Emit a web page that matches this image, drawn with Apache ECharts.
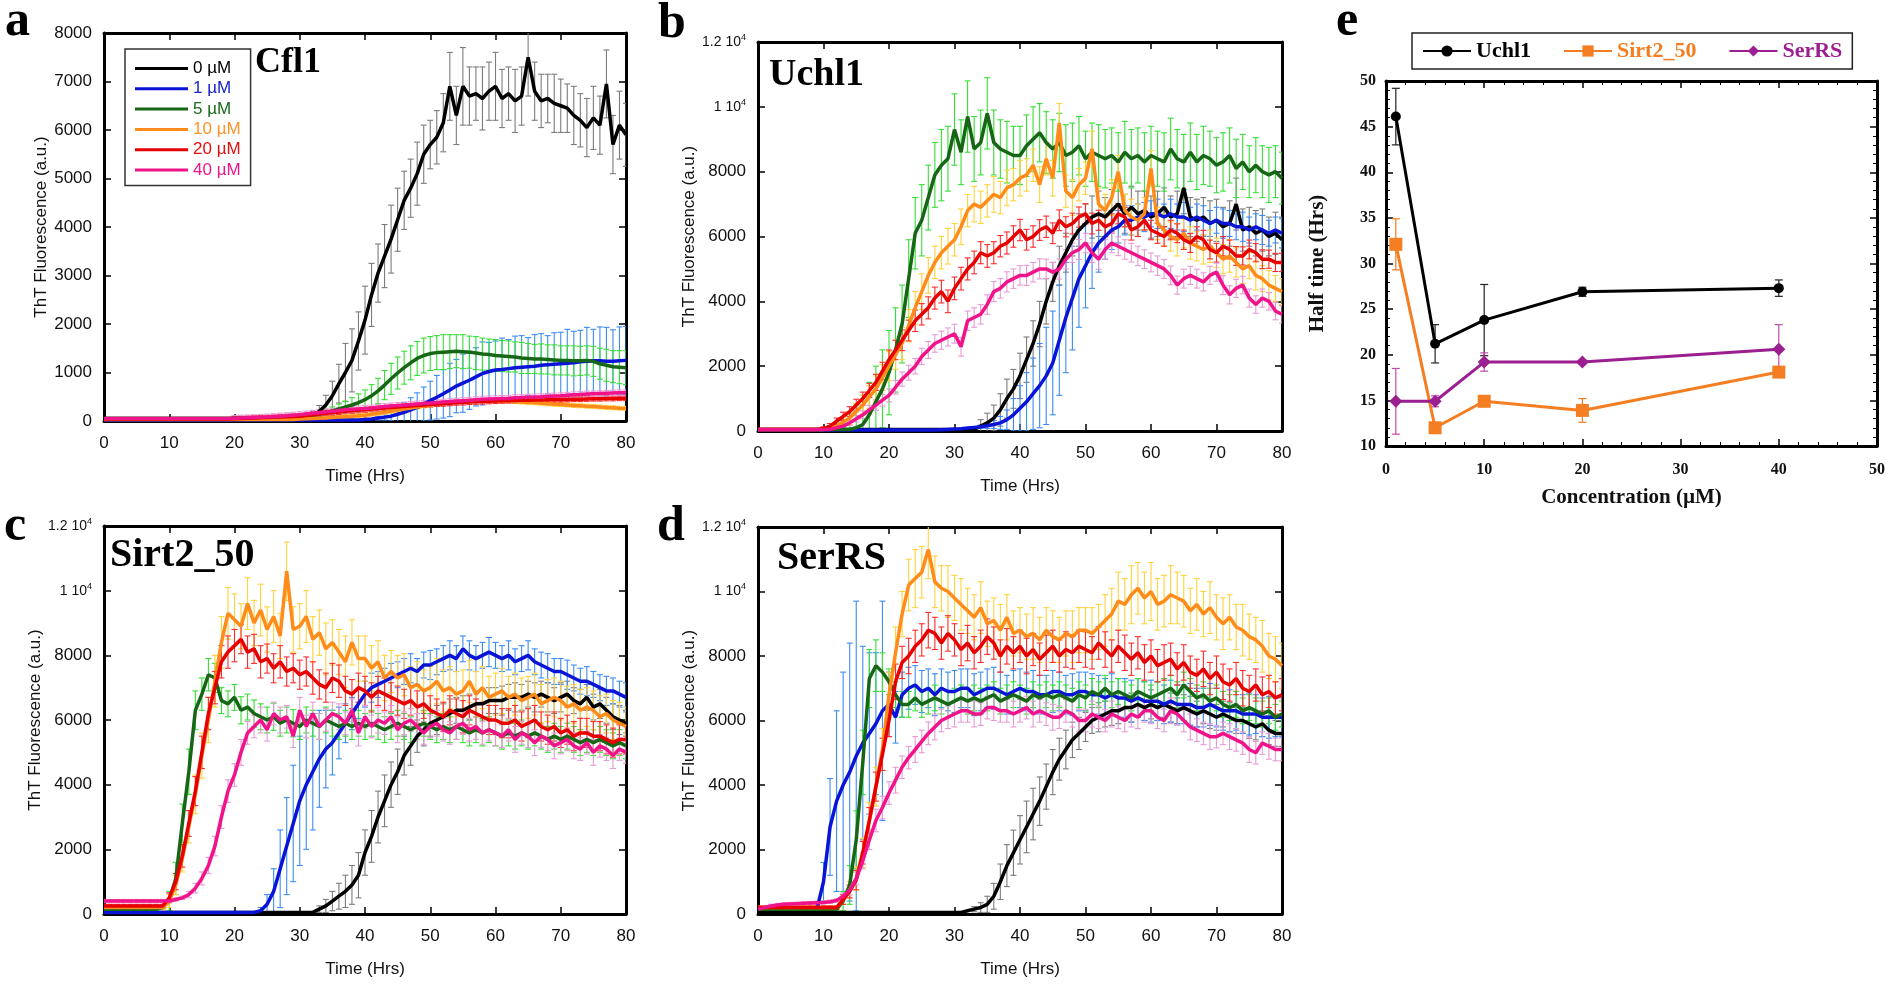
<!DOCTYPE html>
<html><head><meta charset="utf-8">
<script src="https://cdn.jsdelivr.net/npm/echarts@6.0.0/dist/echarts.min.js"></script>
<style>html,body{margin:0;padding:0;background:#fff}#c{width:1890px;height:986px}</style>
</head><body><div id="c"></div>
<script>
// ---------- time axis (hours) ----------
const HOURS = [0,1,2,3,4,5,6,7,8,9,10,11,12,13,14,15,16,17,18,19,20,21,22,23,24,25,26,27,28,29,30,31,32,33,34,35,36,37,38,39,40,41,42,43,44,45,46,47,48,49,50,51,52,53,54,55,56,57,58,59,60,61,62,63,64,65,66,67,68,69,70,71,72,73,74,75,76,77,78,79,80];
const CONC = ['0 µM','1 µM','5 µM','10 µM','20 µM','40 µM'];
const X_LABELS = ['0','10','20','30','40','50','60','70','80'];
const Y_LABELS_A = ['0','1000','2000','3000','4000','5000','6000','7000','8000'];
const Y_LABELS_BCD = ['0','2000','4000','6000','8000','1 10^4','1.2 10^4'];
const PANEL_NAMES = ['Cfl1','Uchl1','Sirt2_50','SerRS'];

// ---------- panel a : Cfl1 ----------
const A_0 = [50,50,50,50,50,50,50,50,50,50, 50,50,50,50,50,50,50,50,50,50, 50,50,50,50,50,50,50,50,50,50,
 60,80,120,200,330,520,770,1000,1250,1650, 2080,2600,3050,3400,3750,4150,4550,4800,5100,5500,
 5700,5850,6150,6900,6300,6900,6700,6750,6650,6800, 6900,6650,6750,6600,6700,7500,6800,6600,6650,6550,
 6500,6450,6300,6200,6050,6250,6100,6950,5700,6100, 5900];
const A_1 = [20,20,20,20,20,20,20,20,20,20, 20,20,20,20,20,20,20,20,20,20, 20,20,20,20,20,20,20,20,20,20, 20,20,20,20,20,20,20,20,20,20,
 30,40,60,80,100,140,180,230,280,350, 420,490,560,640,720,780,840,910,980,1020,
 1050,1060,1080,1100,1110,1120,1130,1150,1160,1170, 1180,1190,1200,1220,1230,1240,1240,1230,1230,1240, 1250];
const A_2 = [50,50,50,50,50,50,50,50,50,50, 50,50,50,50,50,50,50,50,50,50, 50,50,50,50,50,50,50,50,50,50,
 70,90,110,140,170,210,250,290,330,380, 440,520,620,740,870,990,1100,1200,1290,1350,
 1390,1410,1420,1430,1440,1430,1420,1400,1380,1370, 1350,1340,1330,1320,1300,1290,1280,1280,1270,1260,
 1250,1250,1240,1240,1250,1230,1180,1150,1120,1110, 1100];
const A_3 = [30,30,30,30,30,30,30,30,30,30, 30,30,30,30,30,30,30,30,30,30, 30,30,30,30,30,30,30,30,30,30,
 40,45,50,55,60,70,80,90,100,110, 120,140,160,180,200,220,245,270,290,310,
 330,345,360,375,390,400,410,415,420,420, 420,415,410,400,390,380,375,365,355,345,
 340,330,320,315,305,300,290,280,275,265, 260];
const A_4 = [40,40,40,40,40,40,40,40,40,40, 40,40,40,40,40,40,40,40,40,40,
 45,50,55,60,65,70,75,80,90,95, 100,115,130,145,160,170,185,200,210,220,
 230,245,255,270,280,290,300,310,320,330, 340,350,355,365,375,380,390,395,400,405,
 410,415,420,425,430,430,435,435,440,440, 440,445,450,450,455,460,460,465,465,470, 470];
const A_5 = [50,50,50,50,50,50,50,50,50,50, 50,50,50,50,50,50,50,50,50,50,
 55,60,65,70,75,80,90,100,110,120, 130,145,160,175,190,200,215,230,240,250,
 260,270,285,300,310,320,330,340,350,360, 370,380,390,400,410,420,430,440,450,455,
 460,465,470,480,485,490,495,500,510,515, 520,530,540,545,555,560,565,570,575,580, 580];
const AE_0 = [0,0,0,0,0,0,0,0,0,0, 0,0,0,0,0,0,0,0,0,0, 0,0,0,0,0,0,0,0,0,0,
 30,50,80,120,200,300,400,600,650,600, 700,650,600,650,700,650,600,600,650,600,
 500,550,600,700,600,800,600,550,650,600, 700,600,550,650,600,800,600,550,500,600,
 550,500,600,550,600,650,600,700,600,700, 650];
const AE_1 = [0,0,0,0,0,0,0,0,0,0, 0,0,0,0,0,0,0,0,0,0, 0,0,0,0,0,0,0,0,0,0, 0,0,0,0,0,0,0,0,0,0,
 0,0,40,60,100,150,200,250,300,350, 400,450,500,550,550,600,600,600,650,600,
 600,650,600,650,650,600,650,650,600,650, 650,700,650,650,700,650,700,700,650,700, 700];
const AE_2 = [0,0,0,0,0,0,0,0,0,0, 0,0,0,0,0,0,0,0,0,0, 0,0,0,0,0,0,0,0,0,0,
 20,30,40,50,60,80,100,120,150,180, 200,230,260,300,320,330,340,350,350,360,
 350,350,360,350,340,350,330,340,330,320, 330,320,320,310,320,310,300,310,300,310,
 300,300,310,300,300,310,320,330,330,340, 350];
const AE_3 = [10,10,10,10,10,10,10,10,10,10, 10,10,10,10,10,10,10,10,10,10, 10,10,10,10,10,10,10,10,10,10,
 40,40,40,40,40,40,40,40,40,40, 40,40,40,40,40,40,40,40,40,40, 40,40,40,40,40,40,40,40,40,40,
 40,40,40,40,40,40,40,40,40,40, 40,40,40,40,40,40,40,40,40,40, 40];
const AE_4 = [15,15,15,15,15,15,15,15,15,15, 15,15,15,15,15,15,15,15,15,15,
 50,50,50,50,50,50,50,50,50,50, 50,50,50,50,50,50,50,50,50,50, 50,50,50,50,50,50,50,50,50,50,
 50,50,50,50,50,50,50,50,50,50, 50,50,50,50,50,50,50,50,50,50, 50,50,50,50,50,50,50,50,50,50, 50];
const AE_5 = [15,15,15,15,15,15,15,15,15,15, 15,15,15,15,15,15,15,15,15,15,
 60,60,60,60,60,60,60,60,60,60, 60,60,60,60,60,60,60,60,60,60, 60,60,60,60,60,60,60,60,60,60,
 60,60,60,60,60,60,60,60,60,60, 60,60,60,60,60,60,60,60,60,60, 60,60,60,60,60,60,60,60,60,60, 60];

// ---------- panel b : Uchl1 ----------
const B_0 = [50,50,50,50,50,50,50,50,50,50, 50,50,50,50,50,50,50,50,50,50, 50,50,50,50,50,50,50,50,50,50,
 50,50,50,50,150,250,400,650,1000,1300, 1700,2200,2700,3300,4000,4600,5100,5500,5900,6200,
 6400,6600,6700,6600,6800,7000,6700,6900,6700,6800, 6600,6700,6900,6600,6700,7500,6600,6500,6600,6400,
 6500,6300,6400,7000,6200,6300,6100,6200,6000,6100, 5900];
const B_1 = [30,30,30,30,30,30,30,30,30,30, 30,30,30,30,30,30,30,30,30,30,
 30,30,30,30,30,30,30,30,40,50, 60,70,90,110,130,160,200,250,350,500,
 700,900,1150,1400,1700,2100,2800,3500,4100,4700, 5100,5500,5800,6000,6200,6300,6500,6500,6600,6600,
 6700,6700,6600,6700,6600,6600,6500,6600,6500,6400, 6500,6400,6400,6300,6300,6200,6300,6200,6100,6200, 6100];
const B_2 = [50,50,50,50,50,50,50,50,50,50, 50,50,50,50,50,100,200,500,900,1300,
 1800,2500,3300,4700,6100,6500,7200,7900,8200,8400, 9300,8600,9700,8700,8900,9800,8900,8700,8600,8500,
 8500,8800,9000,9200,8900,8700,8900,8500,8600,8800, 8400,8600,8500,8400,8500,8300,8600,8400,8500,8300,
 8500,8400,8300,8700,8400,8300,8600,8300,8500,8400, 8200,8300,8500,8100,8300,8000,8200,8000,7900,8000, 7800];
const B_3 = [50,50,50,50,50,50,50,50,50,50, 50,100,150,280,400,600,800,1050,1300,1650,
 2000,2350,2700,3250,3800,4300,4800,5200,5500,5700, 5900,6300,6800,7000,6900,7100,7300,7200,7500,7600,
 7800,7900,8200,7600,8400,7800,9500,7400,7200,7600, 7800,8700,7000,6800,7200,8000,6800,6600,6500,6700,
 8100,6400,6200,6000,5900,6100,5800,5700,5600,5700, 5500,5300,5400,5200,5000,5100,4800,4700,4500,4400, 4300];
const B_4 = [50,50,50,50,50,50,50,50,50,50, 80,150,300,450,600,800,1000,1250,1500,1850,
 2200,2500,2800,3100,3400,3600,3800,4100,4300,4000, 4400,4700,5000,5200,5500,5400,5500,5700,5800,6000,
 6200,5900,6000,6200,6300,6100,6500,6300,6400,6600, 6700,6400,6500,6300,6400,6700,6600,6200,6300,6500,
 6200,6100,6000,6200,6100,5900,5800,6000,5900,5600, 5500,5700,5600,5400,5400,5600,5500,5300,5300,5200, 5200];
const B_5 = [50,50,50,50,50,50,50,50,50,50, 50,50,100,150,250,380,500,650,800,950,
 1100,1350,1600,1800,2000,2300,2500,2700,2800,2900, 3000,2600,3400,3500,3600,3900,4300,4400,4600,4700,
 4800,4800,4900,5000,5000,4900,5000,5300,5500,5600, 5800,5500,5300,5600,5800,5700,5600,5500,5400,5300,
 5200,5100,5000,4800,4500,4700,4800,4700,4600,4800, 4900,4500,4200,4400,4500,4100,3900,4100,4000,3700, 3600];
const BE_0 = [0,0,0,0,0,0,0,0,0,0, 0,0,0,0,0,0,0,0,0,0, 0,0,0,0,0,0,0,0,0,0,
 0,0,0,0,200,300,400,500,600,600, 700,700,700,700,700,600,600,600,500,500,
 600,650,700,600,650,700,600,650,700,600, 650,700,600,650,700,800,600,650,600,700,
 650,600,700,800,650,600,700,650,600,650, 700];
const BE_1 = [0,0,0,0,0,0,0,0,0,0, 0,0,0,0,0,0,0,0,0,0, 0,0,0,0,0,0,0,0,0,0,
 0,0,0,0,50,80,120,200,300,500, 700,900,1100,1300,1500,1600,1700,1700,1600,1500,
 1300,1100,900,700,600,500,450,450,400,450, 400,450,400,450,400,450,400,400,450,400,
 400,450,400,400,450,400,400,450,400,400, 450];
const BE_2 = [0,0,0,0,0,0,0,0,0,0, 0,0,0,300,500,700,900,1000,1100,1200,
 1300,1300,1200,1200,1100,1100,1000,1000,1100,1000, 1100,1000,1100,1000,1000,1100,1000,900,950,900,
 900,950,1000,900,950,900,900,950,900,900, 850,900,950,900,850,900,950,900,850,900,
 900,850,900,950,900,850,900,850,900,850, 850,900,850,900,850,800,850,800,850,800, 800];
const BE_3 = [0,0,0,0,0,0,0,0,0,0, 0,50,100,150,200,250,300,350,400,400,
 450,450,500,500,500,550,550,500,500,550, 500,550,500,550,500,500,550,500,550,500,
 550,500,500,550,500,550,600,500,550,500, 500,550,500,500,550,500,500,550,500,500,
 550,500,500,450,500,450,500,450,450,500, 450,450,500,450,450,400,450,400,450,400, 400];
const BE_4 = [0,0,0,0,0,0,0,0,0,0, 50,80,100,130,150,180,200,220,250,270,
 300,300,320,320,330,330,340,340,350,350, 350,350,340,350,340,350,340,330,340,330,
 330,320,330,320,330,320,320,310,320,310, 310,320,310,310,300,310,300,310,300,300,
 300,310,300,300,290,300,290,300,290,290, 290,300,290,290,280,290,280,290,280,280, 280];
const BE_5 = [0,0,0,0,0,0,0,0,0,0, 0,0,40,60,80,100,120,140,160,180,
 200,210,220,230,240,250,260,270,280,280, 290,290,300,300,300,300,310,300,310,300,
 300,310,300,310,300,300,310,300,300,310, 300,300,310,300,300,290,300,290,300,290,
 290,300,290,290,280,290,280,290,280,280, 280,290,280,280,270,280,270,280,270,270, 270];

// ---------- panel c : Sirt2_50 ----------
const C_0 = [50,50,50,50,50,50,50,50,50,50, 50,50,50,50,50,50,50,50,50,50, 50,50,50,50,50,50,50,50,50,50,
 50,50,50,150,250,400,550,700,900,1200, 1900,2400,3000,3500,4000,4400,4900,5200,5500,5700,
 5900,6000,6100,6200,6300,6300,6400,6500,6500,6600, 6600,6600,6700,6700,6700,6800,6700,6800,6700,6600,
 6700,6800,6600,6500,6700,6400,6500,6300,6100,6000, 5900];
const C_1 = [50,50,50,50,50,50,50,50,50,50, 50,50,50,50,50,50,50,50,50,50,
 50,50,50,50,100,300,700,1400,2100,2800, 3500,4000,4400,4800,5100,5300,5600,5900,6200,6500,
 6800,7000,7100,7200,7300,7400,7500,7600,7500,7700, 7700,7800,7900,8000,7900,8200,8000,7900,8000,8100,
 8000,7900,8000,7800,7900,8000,7800,7700,7600,7500, 7500,7400,7300,7200,7200,7100,7000,6900,6900,6800, 6700];
const C_2 = [150,150,150,150,150,150,150,150,150,200, 400,1100,2800,4400,6300,6800,7400,7300,6600,6500,
 6700,6300,6400,6200,6100,6000,6100,5900,6000,5900, 5800,6000,5900,5800,6000,5900,5800,5900,5800,5900,
 5800,5900,5800,5700,5800,5900,5800,5700,5800,5900, 5800,5700,5800,5700,5800,5700,5600,5700,5600,5700,
 5600,5500,5600,5500,5600,5500,5600,5500,5400,5500, 5400,5500,5400,5300,5400,5300,5400,5300,5200,5300, 5200];
const C_3 = [200,200,200,200,200,200,200,200,200,200, 400,900,1700,2700,3700,4900,6000,7200,8400,9300,
 9100,8900,9600,9000,9400,8800,9200,8600,10600,8800, 8900,9200,8500,8700,8200,8400,8100,7800,8400,7900,
 7900,7600,7800,7300,7500,7300,7400,7000,7100,6900, 7000,7200,6900,7000,6800,6900,7200,6800,7000,6700,
 6800,6900,6700,6800,6600,6700,6800,6500,6600,6700, 6600,6400,6500,6300,6400,6300,6100,6200,6000,5900, 5800];
const C_4 = [250,250,250,250,250,250,250,250,250,250, 500,1000,1800,2800,3800,5000,6200,7000,7800,8100,
 8300,8500,8100,8200,7800,7900,7600,7800,7500,7600, 7400,7500,7300,7100,7000,7300,7200,6900,6800,7000,
 6900,6700,6900,6800,6700,6600,6500,6600,6400,6500, 6300,6200,6100,6300,6200,6100,6300,6200,6100,6000,
 6000,5900,5900,6000,5800,5900,6000,5800,5700,5800, 5600,5700,5500,5600,5600,5500,5500,5400,5300,5400, 5400];
const C_5 = [400,400,400,400,400,400,400,400,400,400, 400,450,500,600,800,1100,1500,2100,3000,3800,
 4300,5000,5600,5800,6000,5700,6200,6000,6100,5500, 6300,5800,6200,5800,6000,6200,6100,5900,6300,5600,
 6100,5800,6000,5900,6100,5700,5900,6000,5800,5600, 5800,5900,5700,5600,5800,5900,5700,5800,5600,5700,
 5600,5500,5700,5400,5600,5500,5300,5500,5400,5200, 5300,5400,5200,5100,5300,5000,5200,5100,4900,5100, 5000];
const CE_0 = [0,0,0,0,0,0,0,0,0,0, 0,0,0,0,0,0,0,0,0,0, 0,0,0,0,0,0,0,0,0,0,
 0,0,0,100,200,300,400,500,600,700, 700,800,800,800,700,700,600,600,500,500,
 400,450,400,450,400,450,400,400,450,400, 400,450,400,450,400,400,450,400,450,400,
 450,400,400,450,400,400,450,400,400,450, 400];
const CE_1 = [0,0,0,0,0,0,0,0,0,0, 0,0,0,0,0,0,0,0,0,0,
 0,0,0,0,100,300,700,1200,1500,1800, 2000,2000,1800,1500,1200,1000,800,600,500,450,
 400,450,400,400,450,400,400,450,400,400, 450,400,400,450,400,400,450,400,400,450,
 400,400,450,400,400,450,400,400,450,400, 400,450,400,400,450,400,400,450,400,400, 450];
const CE_2 = [50,50,50,50,50,50,50,50,50,50, 300,500,600,700,600,500,500,450,400,400,
 400,420,400,420,400,400,420,400,400,420, 400,400,400,400,400,400,400,400,400,400,
 400,400,400,400,400,400,400,400,400,400, 400,400,400,400,400,400,400,400,400,400,
 400,400,400,400,400,400,400,400,400,400, 400,400,400,400,400,400,400,400,400,400, 400];
const CE_3 = [50,50,50,50,50,50,50,50,50,50, 200,300,400,500,600,700,700,800,800,800,
 800,700,800,700,800,700,800,700,900,700, 700,800,700,700,800,700,700,800,700,700,
 700,700,650,700,650,700,650,650,700,650, 650,700,650,650,700,650,650,700,650,650,
 650,700,650,650,700,650,650,600,650,600, 600,650,600,650,600,600,650,600,600,650, 600];
const CE_4 = [50,50,50,50,50,50,50,50,50,50, 150,250,350,400,450,500,500,500,500,500,
 500,450,500,450,500,450,450,500,450,450, 450,450,500,450,450,450,500,450,450,450,
 450,450,450,500,450,450,450,450,500,450, 450,450,450,450,450,500,450,450,450,450,
 450,450,450,450,450,450,450,450,450,450, 450,450,450,450,450,450,450,450,450,450, 450];
const CE_5 = [50,50,50,50,50,50,50,50,50,50, 50,50,50,100,150,200,250,300,350,350,
 350,400,350,350,400,350,350,400,350,350, 400,350,350,400,350,350,400,350,350,400,
 350,350,400,350,350,400,350,350,400,350, 350,400,350,350,400,350,350,400,350,350,
 400,350,350,400,350,350,400,350,350,400, 350,350,400,350,350,400,350,350,400,350, 350];

// ---------- panel d : SerRS ----------
const D_0 = [50,50,50,50,50,50,50,50,50,50, 50,50,50,50,50,50,50,50,50,50, 50,50,50,50,50,50,50,50,50,50,
 50,50,100,150,200,300,550,1000,1500,1900, 2300,2700,3100,3500,3950,4400,4800,5100,5400,5600,
 5800,6000,6100,6200,6300,6300,6400,6400,6500,6400, 6500,6400,6500,6400,6300,6400,6300,6200,6300,6200,
 6100,6200,6100,6000,6000,5900,5800,5900,5700,5600, 5600];
const D_1 = [150,150,150,150,150,150,150,150,150,150, 1000,2700,3500,4000,4400,4900,5300,5600,5900,6300,
 6500,6100,6800,7000,7100,6900,7000,6800,7000,6900, 6900,7000,7000,6800,6900,7000,7000,6900,6800,6900,
 7000,6900,6900,6800,6800,6900,6900,6800,6800,6900, 6900,6800,6800,6700,6800,6700,6700,6600,6700,6600,
 6600,6600,6500,6600,6500,6500,6500,6400,6400,6500, 6400,6300,6300,6300,6200,6200,6200,6100,6100,6100, 6100];
const D_2 = [150,150,150,150,150,150,150,150,150,150, 150,150,150,400,900,2300,4700,7300,7700,7500,
 7200,6800,6500,6500,6700,6500,6600,6700,6600,6500, 6600,6700,6600,6700,6600,6700,6800,6600,6700,6800,
 6700,6600,6800,6700,6800,6700,6800,6700,6600,6800, 6700,6900,6800,7000,6800,6900,6800,6700,6900,6800,
 6700,6800,6900,7000,6800,7100,6900,6700,6800,6600, 6700,6500,6400,6500,6300,6400,6300,6200,6300,6100, 6200];
const D_3 = [200,200,200,200,200,200,200,200,200,200, 200,200,200,450,750,1100,1900,2900,3950,5100,
 6800,8100,9300,10200,10400,10600,11300,10300,10100,10000, 9800,9600,9400,9200,9500,9000,9100,8800,9200,8700,
 8800,8600,8700,8500,8800,8600,8500,8700,8600,8800, 8800,8700,8900,9100,9300,9700,9600,9900,10100,9800,
 10000,9600,9700,9900,9800,9700,9400,9600,9300,9500, 9200,9000,9200,8900,8800,8600,8500,8300,8000,7900, 7700];
const D_4 = [200,200,200,200,200,200,200,200,200,200, 200,200,200,450,700,1050,1900,2900,3950,4950,
 6000,7200,7800,8000,8300,8500,8800,8700,8400,8700, 8500,8200,8400,8100,8300,8600,8400,8000,8300,8100,
 8300,8000,8200,7900,8100,8300,8000,8200,8100,8300, 8200,8100,8400,8200,8000,8300,8100,7900,8100,7800,
 8000,7700,7800,7900,7600,7800,7500,7400,7600,7300, 7500,7200,7100,7300,7000,6900,7100,6800,6900,6700, 6800];
const D_5 = [150,200,250,280,300,310,320,330,340,350, 360,380,420,550,740,1100,1650,2300,2900,3300,
 3750,4150,4550,4850,5100,5350,5600,5800,6000,6100, 6200,6300,6300,6200,6200,6400,6400,6300,6300,6200,
 6300,6400,6200,6300,6200,6100,6100,6300,6200,6000, 6000,6200,6100,6000,6200,6100,6000,6200,6100,6300,
 6300,6100,6000,6300,6200,6000,5800,5700,5600,5500, 5500,5600,5500,5400,5300,5100,5000,5300,5200,5100, 5100];
const DE_0 = [0,0,0,0,0,0,0,0,0,0, 0,0,0,0,0,0,0,0,0,0, 0,0,0,0,0,0,0,0,0,0,
 0,0,0,80,150,250,400,550,650,700, 750,800,800,750,700,700,650,600,550,500,
 450,400,450,400,450,400,400,450,400,400, 450,400,400,450,400,400,450,400,400,450,
 400,400,450,400,400,450,400,400,450,400, 400];
const DE_1 = [50,50,50,50,50,50,50,50,50,50, 600,1500,2800,3500,4000,4800,3000,2500,2200,3400,
 1000,800,700,650,600,650,600,650,600,600, 650,600,600,650,600,600,650,600,600,650,
 600,600,650,600,600,650,600,600,650,600, 600,650,600,600,650,600,600,650,600,600,
 650,600,600,650,600,600,650,600,600,650, 600,600,650,600,600,650,600,600,650,600, 600];
const DE_2 = [50,50,50,50,50,50,50,50,50,50, 50,50,50,300,600,900,1000,900,800,600,
 400,400,400,400,400,400,400,400,400,400, 400,400,400,400,400,400,400,400,400,400,
 400,400,400,400,400,400,400,400,400,400, 400,400,400,400,400,400,400,400,400,400,
 400,400,400,400,400,400,400,400,400,400, 400,400,400,400,400,400,400,400,400,400, 400];
const DE_3 = [50,50,50,50,50,50,50,50,50,50, 50,50,50,150,250,350,450,550,600,650,
 700,800,700,800,900,800,900,800,700,800, 700,800,700,700,800,700,700,800,700,700,
 700,700,800,700,700,800,700,700,800,700, 700,800,700,800,800,900,800,900,800,800,
 900,800,800,900,800,800,700,800,700,800, 700,800,700,700,800,700,700,800,700,700, 700];
const DE_4 = [50,50,50,50,50,50,50,50,50,50, 50,50,50,150,200,300,350,400,450,500,
 500,550,500,550,500,500,550,500,500,550, 500,500,550,500,500,550,500,500,550,500,
 500,550,500,500,550,500,500,550,500,500, 550,500,500,550,500,500,550,500,500,550,
 500,500,550,500,500,550,500,500,550,500, 500,550,500,500,550,500,500,550,500,500, 500];
const DE_5 = [50,50,50,50,50,50,50,50,50,50, 50,50,50,100,150,200,250,300,350,350,
 350,400,350,350,400,350,350,400,350,350, 400,350,350,400,350,350,400,350,350,400,
 350,350,400,350,350,400,350,350,400,350, 350,400,350,350,400,350,350,400,350,350,
 400,350,350,400,350,350,400,350,350,400, 350,350,400,350,350,400,350,350,400,350, 350];

// ---------- panel e : half times ----------
const E_CONC = [1, 5, 10, 20, 40];
const E_SERIES = ['Uchl1', 'Sirt2_50', 'SerRS'];
const E_UCHL1 = [46.1, 21.2, 23.8, 26.9, 27.3];
const E_UCHL1_ERR = [3.1, 2.1, 3.9, 0.5, 0.9];
const E_SIRT2 = [32.1, 12.0, 14.9, 13.9, 18.1];
const E_SIRT2_ERR = [2.8, 0.2, 0.4, 1.3, 0.3];
const E_SERRS = [14.9, 14.9, 19.2, 19.2, 20.6];
const E_SERRS_ERR = [3.6, 0.6, 1.0, 0.2, 2.7];
const E_X_LABELS = ['0','10','20','30','40','50'];
const E_Y_LABELS = ['10','15','20','25','30','35','40','45','50'];

// ---------- styling / layout ----------
const SANS = "'Liberation Sans', Arial, sans-serif";
const SERIF = "'Liberation Serif', 'Times New Roman', serif";
const LINE_COLORS = ['#000000', '#0a14d6', '#166616', '#ff8c1a', '#e60000', '#f0138a'];
const ERR_COLORS  = ['#7c7c7c', '#3c8cf5', '#34e034', '#ffd23c', '#ff2b2b', '#e79ad6'];
const LEGEND_TEXT = ['#000000', '#1a22c8', '#176c17', '#ff9326', '#e01010', '#f0158c'];
const PANELS = [
  { grid: {left:104, top:33, width:522, height:388}, ymax:8000, yint:1000, ylabels:Y_LABELS_A,
    means:[A_0,A_1,A_2,A_3,A_4,A_5], errs:[AE_0,AE_1,AE_2,AE_3,AE_4,AE_5] },
  { grid: {left:758, top:42, width:524, height:389}, ymax:12000, yint:2000, ylabels:Y_LABELS_BCD,
    means:[B_0,B_1,B_2,B_3,B_4,B_5], errs:[BE_0,BE_1,BE_2,BE_3,BE_4,BE_5] },
  { grid: {left:104, top:526, width:522, height:388}, ymax:12000, yint:2000, ylabels:Y_LABELS_BCD,
    means:[C_0,C_1,C_2,C_3,C_4,C_5], errs:[CE_0,CE_1,CE_2,CE_3,CE_4,CE_5] },
  { grid: {left:758, top:527, width:524, height:387}, ymax:12000, yint:2000, ylabels:Y_LABELS_BCD,
    means:[D_0,D_1,D_2,D_3,D_4,D_5], errs:[DE_0,DE_1,DE_2,DE_3,DE_4,DE_5] }
];
const GRID_E = {left:1386, top:81, width:491, height:365};

function labelFmt(labels, min, interval) {
  return function (v) {
    const lab = labels[Math.round((v - min) / interval)];
    if (lab === undefined) return '';
    const k = lab.indexOf('^');
    return k < 0 ? lab : '{m|' + lab.slice(0, k) + '}{s|' + lab.slice(k + 1) + '}';
  };
}

function errSeries(name, xi, yi, xs, means, errs, color, capW, lw, z) {
  const data = [];
  for (let i = 0; i < means.length && i < xs.length; i++) {
    if (errs[i] > 0) data.push([xs[i], means[i] - errs[i], means[i] + errs[i]]);
  }
  return {
    type: 'custom', name: name, xAxisIndex: xi, yAxisIndex: yi, clip: true, silent: true, z: z,
    data: data, encode: {x: 0, y: [1, 2]},
    renderItem: function (params, api) {
      const x = api.value(0);
      const lo = api.coord([x, api.value(1)]);
      const hi = api.coord([x, api.value(2)]);
      const st = {stroke: color, lineWidth: lw};
      return {type: 'group', children: [
        {type: 'line', shape: {x1: lo[0], y1: lo[1], x2: hi[0], y2: hi[1]}, style: st},
        {type: 'line', shape: {x1: hi[0] - capW, y1: hi[1], x2: hi[0] + capW, y2: hi[1]}, style: st},
        {type: 'line', shape: {x1: lo[0] - capW, y1: lo[1], x2: lo[0] + capW, y2: lo[1]}, style: st}
      ]};
    }
  };
}

const grids = [], xAxes = [], yAxes = [], series = [];
const axisLineStyle = {show: true, onZero: false, lineStyle: {color: '#000', width: 3}};

PANELS.forEach(function (p, gi) {
  grids.push(Object.assign({containLabel: false}, p.grid));
  const xBase = {gridIndex: gi, type: 'value', min: 0, max: 80, interval: 10,
    axisLine: axisLineStyle, splitLine: {show: false},
    axisTick: {show: true, inside: true, length: 7, lineStyle: {color: '#000', width: 1.5}}};
  xAxes.push(Object.assign({}, xBase, {position: 'bottom',
    axisLabel: {fontSize: 17, color: '#111', fontFamily: SANS, margin: 14, formatter: labelFmt(X_LABELS, 0, 10)},
    name: 'Time (Hrs)', nameLocation: 'middle', nameGap: 47,
    nameTextStyle: {fontSize: 17, color: '#111', fontFamily: SANS}}));
  xAxes.push(Object.assign({}, xBase, {position: 'top', axisLabel: {show: false}}));
  const yBase = {gridIndex: gi, type: 'value', min: 0, max: p.ymax, interval: p.yint,
    axisLine: axisLineStyle, splitLine: {show: false},
    axisTick: {show: true, inside: true, length: 7, lineStyle: {color: '#000', width: 1.5}}};
  yAxes.push(Object.assign({}, yBase, {position: 'left',
    axisLabel: {fontSize: 17, color: '#111', fontFamily: SANS, margin: 12,
      formatter: labelFmt(p.ylabels, 0, p.yint),
      rich: {m: {fontSize: 14, fontFamily: SANS, color: '#111', lineHeight: 18},
             s: {fontSize: 9, fontFamily: SANS, color: '#111', lineHeight: 9, verticalAlign: 'top'}}},
    name: 'ThT Fluorescence (a.u.)', nameLocation: 'middle', nameGap: 53, nameRotate: 90,
    nameTextStyle: {fontSize: 17, color: '#111', fontFamily: SANS}}));
  yAxes.push(Object.assign({}, yBase, {position: 'right', axisLabel: {show: false}}));

  for (let s = 0; s < 6; s++) {
    const nm = gi === 0 ? CONC[s] : PANEL_NAMES[gi] + ' ' + CONC[s];
    series.push(errSeries(nm + ' err', 2 * gi, 2 * gi, HOURS, p.means[s], p.errs[s], ERR_COLORS[s], 3, 1.1, 2));
    series.push({type: 'line', name: nm, xAxisIndex: 2 * gi, yAxisIndex: 2 * gi,
      data: HOURS.map(function (h, i) { return [h, p.means[s][i]]; }).filter(function (d) { return d[1] !== undefined; }),
      symbol: 'none', showSymbol: false, silent: true,
      lineStyle: {color: LINE_COLORS[s], width: 3.5}, itemStyle: {color: LINE_COLORS[s]}, z: 2});
  }
});

// panel e
const ge = grids.length;
grids.push(Object.assign({containLabel: false}, GRID_E));
const eTick = {show: true, inside: true, length: 7, lineStyle: {color: '#000', width: 1.5}};
const eMinor = {show: true, splitNumber: 5, length: 4, lineStyle: {color: '#000', width: 1}};
const eX = {gridIndex: ge, type: 'value', min: 0, max: 50, interval: 10,
  axisLine: axisLineStyle, splitLine: {show: false}, minorSplitLine: {show: false},
  axisTick: eTick, minorTick: eMinor};
xAxes.push(Object.assign({}, eX, {position: 'bottom',
  axisLabel: {fontSize: 16, fontWeight: 'bold', color: '#111', fontFamily: SERIF, margin: 16, formatter: labelFmt(E_X_LABELS, 0, 10)},
  name: 'Concentration (µM)', nameLocation: 'middle', nameGap: 41,
  nameTextStyle: {fontSize: 21, fontWeight: 'bold', color: '#111', fontFamily: SERIF}}));
xAxes.push(Object.assign({}, eX, {position: 'top', axisLabel: {show: false}}));
const eY = {gridIndex: ge, type: 'value', min: 10, max: 50, interval: 5,
  axisLine: axisLineStyle, splitLine: {show: false}, minorSplitLine: {show: false},
  axisTick: eTick, minorTick: eMinor};
yAxes.push(Object.assign({}, eY, {position: 'left',
  axisLabel: {fontSize: 16, fontWeight: 'bold', color: '#111', fontFamily: SERIF, margin: 10, formatter: labelFmt(E_Y_LABELS, 10, 5)},
  name: 'Half time (Hrs)', nameLocation: 'middle', nameGap: 58, nameRotate: 90,
  nameTextStyle: {fontSize: 21, fontWeight: 'bold', color: '#111', fontFamily: SERIF}}));
yAxes.push(Object.assign({}, eY, {position: 'right', axisLabel: {show: false}}));

const E_DEF = [
  {vals: E_UCHL1, errs: E_UCHL1_ERR, color: '#000000', err: '#222222', symbol: 'circle', size: 10},
  {vals: E_SIRT2, errs: E_SIRT2_ERR, color: '#f57e22', err: '#f07a1e', symbol: 'rect', size: 13},
  {vals: E_SERRS, errs: E_SERRS_ERR, color: '#9b1f91', err: '#c04aae', symbol: 'diamond', size: 13}
];
E_DEF.forEach(function (d, k) {
  series.push(errSeries(E_SERIES[k] + ' err', 2 * ge, 2 * ge, E_CONC, d.vals, d.errs, d.err, 4, 1.2, 3));
  series.push({type: 'line', name: E_SERIES[k], xAxisIndex: 2 * ge, yAxisIndex: 2 * ge,
    data: E_CONC.map(function (c, i) { return [c, d.vals[i]]; }),
    symbol: d.symbol, symbolSize: d.size, showSymbol: true, silent: true,
    lineStyle: {color: d.color, width: 3}, itemStyle: {color: d.color}, z: 3});
});

const option = {
  animation: false,
  backgroundColor: '#ffffff',
  textStyle: {fontFamily: SANS},
  grid: grids, xAxis: xAxes, yAxis: yAxes, series: series,
  legend: [
    {orient: 'vertical', left: 125, top: 49, padding: [11, 10, 7, 10], itemWidth: 53, itemHeight: 3, itemGap: 3.3,
     icon: 'rect', borderColor: '#333', borderWidth: 1.5, backgroundColor: '#fff', selectedMode: false,
     textStyle: {fontSize: 17, lineHeight: 17, fontFamily: SANS},
     data: CONC.map(function (c, i) { return {name: c, textStyle: {color: LEGEND_TEXT[i]}}; })},
    {orient: 'horizontal', left: 1412, top: 33, padding: [7, 10, 7, 10], itemWidth: 48, itemHeight: 14, itemGap: 32,
     borderColor: '#222', borderWidth: 1.5, selectedMode: false,
     textStyle: {fontSize: 22, fontWeight: 'bold', fontFamily: SERIF},
     data: E_SERIES.map(function (n, i) { return {name: n, textStyle: {color: E_DEF[i].color}}; })}
  ],
  graphic: [
    {type: 'text', x: 5, y: 22, style: {text: 'a', font: "bold 50px 'Liberation Serif'", fill: '#000', verticalAlign: 'middle'}},
    {type: 'text', x: 658, y: 24, style: {text: 'b', font: "bold 50px 'Liberation Serif'", fill: '#000', verticalAlign: 'middle'}},
    {type: 'text', x: 4, y: 527, style: {text: 'c', font: "bold 50px 'Liberation Serif'", fill: '#000', verticalAlign: 'middle'}},
    {type: 'text', x: 657, y: 527, style: {text: 'd', font: "bold 50px 'Liberation Serif'", fill: '#000', verticalAlign: 'middle'}},
    {type: 'text', x: 1336, y: 22, style: {text: 'e', font: "bold 50px 'Liberation Serif'", fill: '#000', verticalAlign: 'middle'}},
    {type: 'text', x: 255, y: 63, style: {text: PANEL_NAMES[0], font: "bold 36px 'Liberation Serif'", fill: '#000', verticalAlign: 'middle'}},
    {type: 'text', x: 769, y: 75, style: {text: PANEL_NAMES[1], font: "bold 38px 'Liberation Serif'", fill: '#000', verticalAlign: 'middle'}},
    {type: 'text', x: 110, y: 556, style: {text: PANEL_NAMES[2], font: "bold 40px 'Liberation Serif'", fill: '#000', verticalAlign: 'middle'}},
    {type: 'text', x: 777, y: 559, style: {text: PANEL_NAMES[3], font: "bold 40px 'Liberation Serif'", fill: '#000', verticalAlign: 'middle'}}
  ]
};

const chart = echarts.init(document.getElementById('c'), null, {renderer: 'canvas'});
chart.setOption(option);
</script></body></html>
